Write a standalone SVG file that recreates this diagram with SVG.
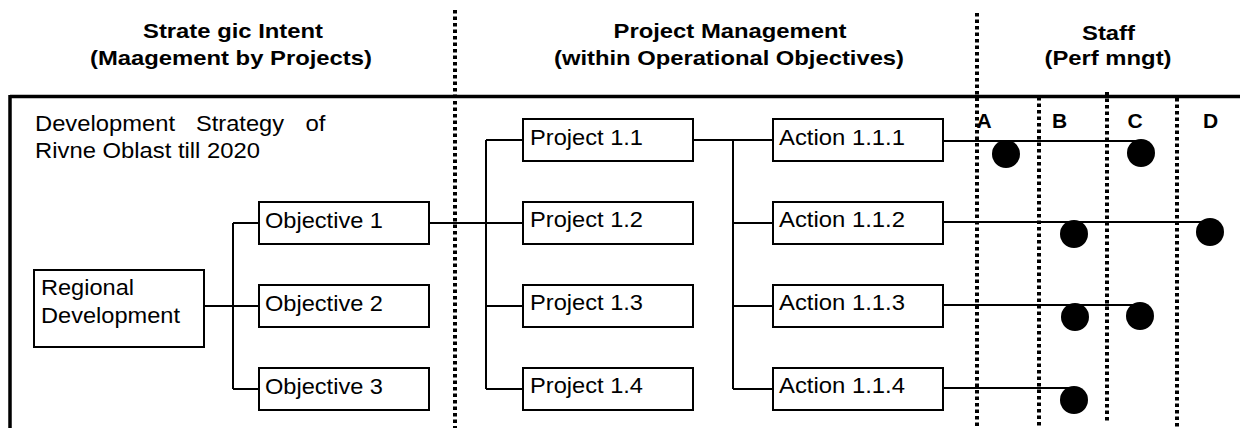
<svg xmlns="http://www.w3.org/2000/svg" width="1240" height="428" viewBox="0 0 1240 428">
<style>
.bg{fill:#fff}
.box{fill:#fff;stroke:#000;stroke-width:2}
.ln{fill:none;stroke:#000;stroke-width:2}
.frame{fill:none;stroke:#000;stroke-width:3.5}
.dot{fill:none;stroke:#000;stroke-width:4;stroke-dasharray:3.5 3}
.t{font-family:"Liberation Sans",Arial,sans-serif;font-size:22px;fill:#000}
.h{font-family:"Liberation Sans",Arial,sans-serif;font-size:21px;font-weight:bold;fill:#000}
.pt{fill:#000}
</style>
<rect class="bg" x="0" y="0" width="1240" height="428"/>

<g id="headers">
<text class="h" x="143" y="38" textLength="180" lengthAdjust="spacingAndGlyphs">Strate gic Intent</text>
<text class="h" x="90" y="65" textLength="282" lengthAdjust="spacingAndGlyphs">(Maagement by Projects)</text>
<text class="h" x="613.5" y="38" textLength="233" lengthAdjust="spacingAndGlyphs">Project Management</text>
<text class="h" x="554" y="65" textLength="350" lengthAdjust="spacingAndGlyphs">(within Operational Objectives)</text>
<text class="h" x="1082" y="40" textLength="53" lengthAdjust="spacingAndGlyphs">Staff</text>
<text class="h" x="1044.5" y="65" textLength="127" lengthAdjust="spacingAndGlyphs">(Perf mngt)</text>
</g>

<g id="frame">
<path class="frame" d="M10,96.5 H1240 M10,95 V428"/>
<path class="dot" d="M455,10 V428 M977,13 V428 M1039,97 V428 M1107,92 V423 M1177,98 V428"/>
</g>

<g id="columns">
<text class="h" x="984" y="128" text-anchor="middle" font-size="22">A</text>
<text class="h" x="1059.5" y="128" text-anchor="middle" font-size="22">B</text>
<text class="h" x="1135" y="128" text-anchor="middle" font-size="22">C</text>
<text class="h" x="1210.5" y="128" text-anchor="middle" font-size="22">D</text>
</g>

<g id="strategy-title">
<text class="t" x="35" y="130.5" textLength="140" lengthAdjust="spacingAndGlyphs">Development</text>
<text class="t" x="196" y="130.5" textLength="88" lengthAdjust="spacingAndGlyphs">Strategy</text>
<text class="t" x="305.5" y="130.5" textLength="20" lengthAdjust="spacingAndGlyphs">of</text>
<text class="t" x="35" y="157.5" textLength="225" lengthAdjust="spacingAndGlyphs">Rivne Oblast till 2020</text>
</g>

<g id="connectors">
<path class="ln" d="M204,306 H259 M233,223 V389 M233,223 H259 M233,389 H259"/>
<path class="ln" d="M429,223 H523 M486,140 V389 M486,140 H523 M486,306 H523 M486,389 H523"/>
<path class="ln" d="M693,140 H773 M733,140 V389 M733,223 H773 M733,306 H773 M733,389 H773"/>
<path class="ln" d="M943,141 H1141 M943,222 H1210 M943,305 H1140 M943,388 H1074"/>
</g>

<g id="regional">
<rect class="box" x="34" y="270" width="170" height="77"/>
<text class="t" x="41" y="295" textLength="93" lengthAdjust="spacingAndGlyphs">Regional</text>
<text class="t" x="41" y="323" textLength="139" lengthAdjust="spacingAndGlyphs">Development</text>
</g>

<g id="objective1">
<rect class="box" x="259" y="202" width="170" height="42"/>
<text class="t" x="265" y="228" textLength="118" lengthAdjust="spacingAndGlyphs">Objective 1</text>
</g>
<g id="objective2">
<rect class="box" x="259" y="285" width="170" height="42"/>
<text class="t" x="265" y="311" textLength="118" lengthAdjust="spacingAndGlyphs">Objective 2</text>
</g>
<g id="objective3">
<rect class="box" x="259" y="368" width="170" height="42"/>
<text class="t" x="265" y="393.5" textLength="118" lengthAdjust="spacingAndGlyphs">Objective 3</text>
</g>

<g id="project1-1">
<rect class="box" x="523" y="119" width="170" height="42"/>
<text class="t" x="530" y="144.5" textLength="113" lengthAdjust="spacingAndGlyphs">Project 1.1</text>
</g>
<g id="project1-2">
<rect class="box" x="523" y="202" width="170" height="42"/>
<text class="t" x="530" y="227" textLength="113" lengthAdjust="spacingAndGlyphs">Project 1.2</text>
</g>
<g id="project1-3">
<rect class="box" x="523" y="285" width="170" height="42"/>
<text class="t" x="530" y="310" textLength="113" lengthAdjust="spacingAndGlyphs">Project 1.3</text>
</g>
<g id="project1-4">
<rect class="box" x="523" y="368" width="170" height="42"/>
<text class="t" x="530" y="393" textLength="113" lengthAdjust="spacingAndGlyphs">Project 1.4</text>
</g>

<g id="action1-1-1">
<rect class="box" x="773" y="119" width="170" height="42"/>
<text class="t" x="779" y="144.5" textLength="126" lengthAdjust="spacingAndGlyphs">Action 1.1.1</text>
</g>
<g id="action1-1-2">
<rect class="box" x="773" y="202" width="170" height="42"/>
<text class="t" x="779" y="227" textLength="126" lengthAdjust="spacingAndGlyphs">Action 1.1.2</text>
</g>
<g id="action1-1-3">
<rect class="box" x="773" y="285" width="170" height="42"/>
<text class="t" x="779" y="310" textLength="126" lengthAdjust="spacingAndGlyphs">Action 1.1.3</text>
</g>
<g id="action1-1-4">
<rect class="box" x="773" y="368" width="170" height="42"/>
<text class="t" x="779" y="393" textLength="126" lengthAdjust="spacingAndGlyphs">Action 1.1.4</text>
</g>

<g id="staff-dots">
<circle class="pt" cx="1006" cy="154" r="14"/>
<circle class="pt" cx="1141" cy="153" r="14"/>
<circle class="pt" cx="1074" cy="234" r="14"/>
<circle class="pt" cx="1210" cy="232" r="14"/>
<circle class="pt" cx="1075" cy="317" r="14"/>
<circle class="pt" cx="1140" cy="316" r="14"/>
<circle class="pt" cx="1074" cy="400" r="14"/>
</g>
</svg>
